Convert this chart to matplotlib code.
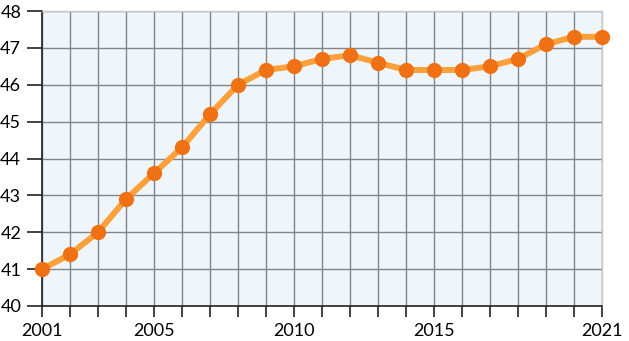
import matplotlib.pyplot as plt

# data
years = list(range(2001, 2022))
values = [41.0, 41.4, 42.0, 42.9, 43.6, 44.3, 45.2, 46.0, 46.4, 46.5, 46.7,
          46.8, 46.6, 46.4, 46.4, 46.4, 46.5, 46.7, 47.1, 47.3, 47.3]
labeled_years = [2001, 2005, 2010, 2015, 2021]
y_ticks = list(range(40, 49))

plt.rcParams['font.family'] = ['Lato', 'DejaVu Sans']

fig = plt.figure(figsize=(6.29, 3.41), dpi=100)
ax = fig.add_axes([42 / 629, 35 / 341, 560 / 629, 295 / 341])
ax.set_facecolor('#eef6fc')

ax.plot(years, values, color='#fba03a', lw=4.3, zorder=3, clip_on=False,
        solid_capstyle='round')
ax.plot(years, values, 'o', color='#f07014', ms=11, mew=0, zorder=4,
        clip_on=False)

ax.set_xlim(2001, 2021)
ax.set_ylim(40, 48)
ax.set_xticks(years)
ax.set_xticklabels([str(y) if y in labeled_years else '' for y in years])
ax.set_yticks(y_ticks)
ax.grid(True, color='#858585', lw=1.0, zorder=1)

for side in ('top', 'right'):
    ax.spines[side].set_color('#c8c8c8')
    ax.spines[side].set_linewidth(1.0)
for side in ('left', 'bottom'):
    ax.spines[side].set_color('#222222')
    ax.spines[side].set_linewidth(1.2)

ax.tick_params(axis='y', length=11, width=1.2, color='#222222',
               labelsize=13, pad=4)
ax.tick_params(axis='x', length=8, width=1.2, color='#222222',
               labelsize=13, pad=4)

fig.savefig('out.png', dpi=100)
